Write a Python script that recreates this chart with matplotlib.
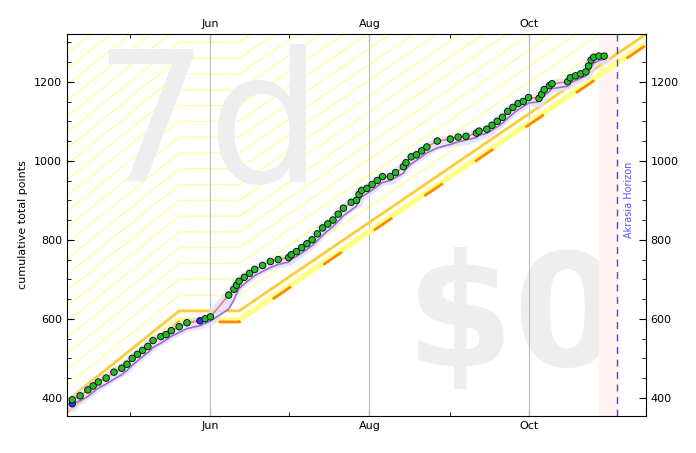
import matplotlib
matplotlib.use("Agg")
import matplotlib.pyplot as plt
import matplotlib.dates as mdates
import numpy as np
from datetime import date, timedelta

dates = ["04-09","04-09","04-12","04-15","04-17","04-19","04-22","04-25","04-28","04-30","05-02","05-04","05-06",
 "05-08","05-10","05-13","05-15","05-17","05-20","05-23","05-28","05-30","06-01","06-08","06-10","06-11","06-12",
 "06-14","06-16","06-18","06-21","06-24","06-27","07-01","07-02","07-04","07-06","07-08","07-10","07-12","07-14",
 "07-16","07-18","07-20","07-22","07-25","07-27","07-28","07-29","07-31","08-02","08-04","08-06","08-09","08-11",
 "08-14","08-15","08-17","08-19","08-21","08-23","08-27","09-01","09-04","09-07","09-11","09-12","09-15","09-17",
 "09-19","09-21","09-23","09-25","09-27","09-29","10-01","10-05","10-06","10-07","10-09","10-10","10-16","10-17",
 "10-19","10-21","10-23","10-24","10-25","10-26","10-28","10-30"]
values = [385,395,405,420,430,440,450,465,475,485,500,510,520,530,545,555,560,570,580,590,595,600,605,660,675,685,695,
 705,715,725,735,745,750,755,762,770,780,790,800,815,830,840,850,865,880,895,900,915,925,930,940,950,960,960,970,
 985,995,1010,1015,1025,1035,1050,1055,1060,1062,1070,1075,1080,1090,1100,1110,1125,1135,1145,1150,1160,1158,1168,
 1180,1190,1195,1200,1210,1215,1220,1225,1240,1255,1262,1265,1265]
blue_idx = [0, 20]
road_dates = ["04-07","05-20","06-12","11-16"]
road_vals = [392, 620, 620, 1325]

def d(s): return date(2024, int(s[:2]), int(s[3:]))
X = mdates.date2num([d(s) for s in dates]); V = np.array(values, float)
RX = mdates.date2num([d(s) for s in road_dates]); RV = np.array(road_vals, float)

fig = plt.figure(figsize=(6.96, 4.53), dpi=100)
ax = fig.add_axes([0.0963, 0.0817, 0.8317, 0.8433])
xmin, xmax = mdates.date2num(date(2024,4,7)), mdates.date2num(date(2024,11,15))
ymin, ymax = 354, 1321

for k in range(1, 30):
    ax.plot(RX, RV + k*40, color="#ffff88", lw=0.8, zorder=1)
ax.text(0.045, 0.975, "7d", transform=ax.transAxes, fontsize=130, color="#eeeeee", va="top", ha="left", zorder=1.5)
ax.text(0.96, 0.045, "$0", transform=ax.transAxes, fontsize=112, color="#eeeeee", va="bottom", ha="right",
        weight="bold", zorder=1.5)
for m in (6, 8, 10):
    ax.axvline(mdates.date2num(date(2024, m, 1)), color="#bbbbbb", lw=0.8, zorder=1.6)
hz = mdates.date2num(date(2024,11,4))
ax.axvspan(hz-7, hz, color="#fff3f3", zorder=1.7)
ax.axvline(hz, color="#4444ff", ls=(0,(5,4)), lw=1, zorder=5)
ax.text(hz+4.5, 900, "Akrasia Horizon", rotation=90, color="#5555ff", fontsize=7, ha="center", va="center")
ax.plot(RX, RV - 23, color="#ffff88", lw=4, zorder=2)
ax.plot(RX, RV, color="#ffcc33", lw=2, zorder=2.1)
ax.plot(RX, RV - 28, color="#ff8800", lw=2, dashes=(8, 14), zorder=2.2)
ax.plot(X, V - 6, color="#dde0ff", lw=9, alpha=0.8, solid_capstyle="round", zorder=2.5)
ma = np.copy(V)
for i in range(1, len(V)):
    ma[i] = ma[i-1] + 0.5*(V[i]-ma[i-1])
ax.plot(X, ma - 5, color="#aa66cc", lw=1.2, zorder=3)
ax.plot(X, V, color="#ff7777", lw=1.2, zorder=3.5)
cols = ["#3333ff" if i in blue_idx else "#22bb22" for i in range(len(V))]
ax.scatter(X, V, s=22, c=cols, edgecolors="black", linewidths=0.6, zorder=4)

ax.set_xlim(xmin, xmax); ax.set_ylim(ymin, ymax)
ax.set_ylabel("cumulative total points", fontsize=8)
ax.xaxis.set_major_locator(mdates.MonthLocator(bymonth=[6,8,10]))
ax.xaxis.set_major_formatter(mdates.DateFormatter("%b"))
ax.xaxis.set_minor_locator(mdates.MonthLocator())
ax.set_yticks([400,600,800,1000,1200])
ax.yaxis.set_minor_locator(matplotlib.ticker.MultipleLocator(50))
ax.tick_params(which="both", direction="in", top=True, right=True, labeltop=True, labelright=True, labelsize=8)
ax.tick_params(which="major", length=5); ax.tick_params(which="minor", length=3)
fig.savefig("out.png", dpi=100)
